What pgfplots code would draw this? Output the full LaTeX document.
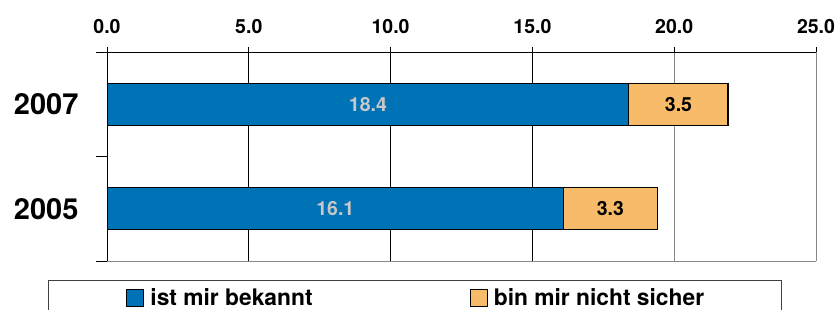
\documentclass[border=0pt]{standalone}
\usepackage{fontspec}
\setmainfont{TeX Gyre Heros}
\usepackage{pgfplots}
\usepackage{pgfplotstable}
\pgfplotsset{compat=1.18}
\definecolor{cblue}{RGB}{0,114,182}
\definecolor{corange}{RGB}{248,187,106}
\definecolor{lblgray}{RGB}{200,200,200}
\definecolor{lgray}{RGB}{135,135,135}
\pgfplotstableread{
y a b
0 16.1 3.3
1 18.4 3.5
}\datatable
\begin{document}
\begin{tikzpicture}
\useasboundingbox (0,0) rectangle (837pt,-309pt);
\begin{axis}[
  at={(107pt,-261pt)}, anchor=south west,
  scale only axis, width=709pt, height=209pt,
  xmin=0, xmax=25, ymin=-0.5, ymax=1.5,
  axis line style={draw=none},
  xtick={0,5,10,15},
  extra x ticks={20,25},
  extra x tick style={grid style={lgray, line width=1pt}},
  xtick pos=upper, xticklabel pos=upper,
  ytick pos=left, yticklabel pos=left,
  tick align=outside, major tick length=5pt,
  xtick style={black, line width=0.8pt},
  xmajorgrids, grid style={black, line width=0.8pt},
  xticklabel style={font=\fontsize{19.5}{22}\selectfont\bfseries, yshift=10pt},
  /pgf/number format/fixed, /pgf/number format/fixed zerofill,
  /pgf/number format/precision=1, /pgf/number format/assume math mode=true,
  ytick={0,1}, yticklabels={2005,2007},
  ytick style={draw=none},
  yticklabel style={font=\fontsize{29}{32}\selectfont\bfseries, xshift=-20pt},
  extra y ticks={-0.5,0.5,1.5}, extra y tick labels={},
  extra y tick style={major tick length=11pt, ytick pos=left, ytick style={draw=black, line width=0.8pt}, ymajorgrids=false},
  legend columns=2, reverse legend,
  legend style={at={(axis description cs:0.4347,-0.0909)}, anchor=north,
    draw=black!75, line width=0.8pt, inner xsep=77.5pt, inner ysep=6pt,
    nodes={inner xsep=0pt},
    font=\fontsize{22.8}{26}\selectfont\bfseries,
    /tikz/every odd column/.append style={column sep=6pt},
    /tikz/every even column/.append style={column sep=157pt}},
  legend image code/.code={\draw[#1, line width=1.2pt] (0pt,-8.5pt) rectangle (17pt,8.5pt);},
]
\addplot[xbar, bar shift=0pt, bar width=0.4, fill=corange, draw=black, line width=1.2pt]
  table[x expr=\thisrow{a}+\thisrow{b}, y=y] {\datatable};
\addlegendentry{bin mir nicht sicher}
\addplot[xbar, bar shift=0pt, bar width=0.4, fill=cblue, draw=black, line width=1.2pt]
  table[x=a, y=y] {\datatable};
\addlegendentry{ist mir bekannt}
\addplot[forget plot, draw=none, mark=none, nodes near coords, point meta=explicit,
  every node near coord/.style={anchor=center, text=lblgray, font=\fontsize{19.5}{22}\selectfont\bfseries}]
  table[x expr=\thisrow{a}/2, y=y, meta=a] {\datatable};
\addplot[forget plot, draw=none, mark=none, nodes near coords, point meta=explicit,
  every node near coord/.style={anchor=center, text=black, font=\fontsize{19.5}{22}\selectfont\bfseries}]
  table[x expr=\thisrow{a}+\thisrow{b}/2, y=y, meta=b] {\datatable};
\draw[black, line width=1pt] (rel axis cs:0,0) -- (rel axis cs:0,1) -- (rel axis cs:1,1);
\draw[lgray, line width=1pt] (rel axis cs:0,0) -- (rel axis cs:1,0) -- (rel axis cs:1,1);
\end{axis}
\end{tikzpicture}
\end{document}
